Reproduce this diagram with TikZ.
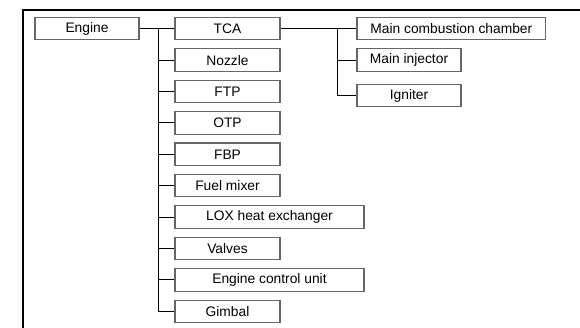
\documentclass[tikz,border=0pt]{standalone}
\usepackage{fontspec}
\setmainfont{Liberation Sans}
\begin{document}
\begin{tikzpicture}[x=1pt,y=-1pt,
  box/.style={draw=black!60, line width=1.1pt, fill=white, minimum height=22.5pt, inner sep=0pt,
    font=\fontsize{13.8}{16}\selectfont},
  conn/.style={draw=black, line width=1pt},
  frame/.style={draw=black, line width=2pt}]
\useasboundingbox (0,0) rectangle (580,328);
\draw[frame] (22.5,330) -- (22.5,10) -- (582,10);
% level 1
\node[box, minimum width=104pt] (eng) at (87,28.7) {Engine};
% level 2
\node[box, minimum width=105pt] (tca) at (227.5,28.7) {TCA};
\node[box, minimum width=105pt] (noz) at (227.5,60.1) {Nozzle};
\node[box, minimum width=105pt] (ftp) at (227.5,91.5) {FTP};
\node[box, minimum width=105pt] (otp) at (227.5,122.9) {OTP};
\node[box, minimum width=105pt] (fbp) at (227.5,154.3) {FBP};
\node[box, minimum width=105pt] (fm) at (227.5,185.7) {Fuel mixer};
\node[box, minimum width=189pt] (lox) at (269.5,217.1) {LOX heat exchanger};
\node[box, minimum width=105pt] (val) at (227.5,248.5) {Valves};
\node[box, minimum width=189pt] (ecu) at (269.5,279.9) {Engine control unit};
\node[box, minimum width=105pt] (gim) at (227.5,311.3) {Gimbal};
% level 3
\node[box, minimum width=188.7pt] (mcc) at (451.3,28.7) {Main combustion chamber};
\node[box, minimum width=104pt] (mi) at (409,60.1) {Main injector};
\node[box, minimum width=104pt] (ign) at (409,95.7) {Igniter};
% connectors
\coordinate (trunk) at (158,28.7);
\coordinate (sub) at (337.3,28.7);
\draw[conn] (eng.east) -- (tca.west);
\foreach \n in {noz,ftp,otp,fbp,fm,lox,val,ecu,gim}
  \draw[conn] (trunk) |- (\n.west);
\draw[conn] (tca.east) -- (mcc.west);
\draw[conn] (sub) |- (mi.west);
\draw[conn] (sub) |- (ign.west);
\end{tikzpicture}
\end{document}
